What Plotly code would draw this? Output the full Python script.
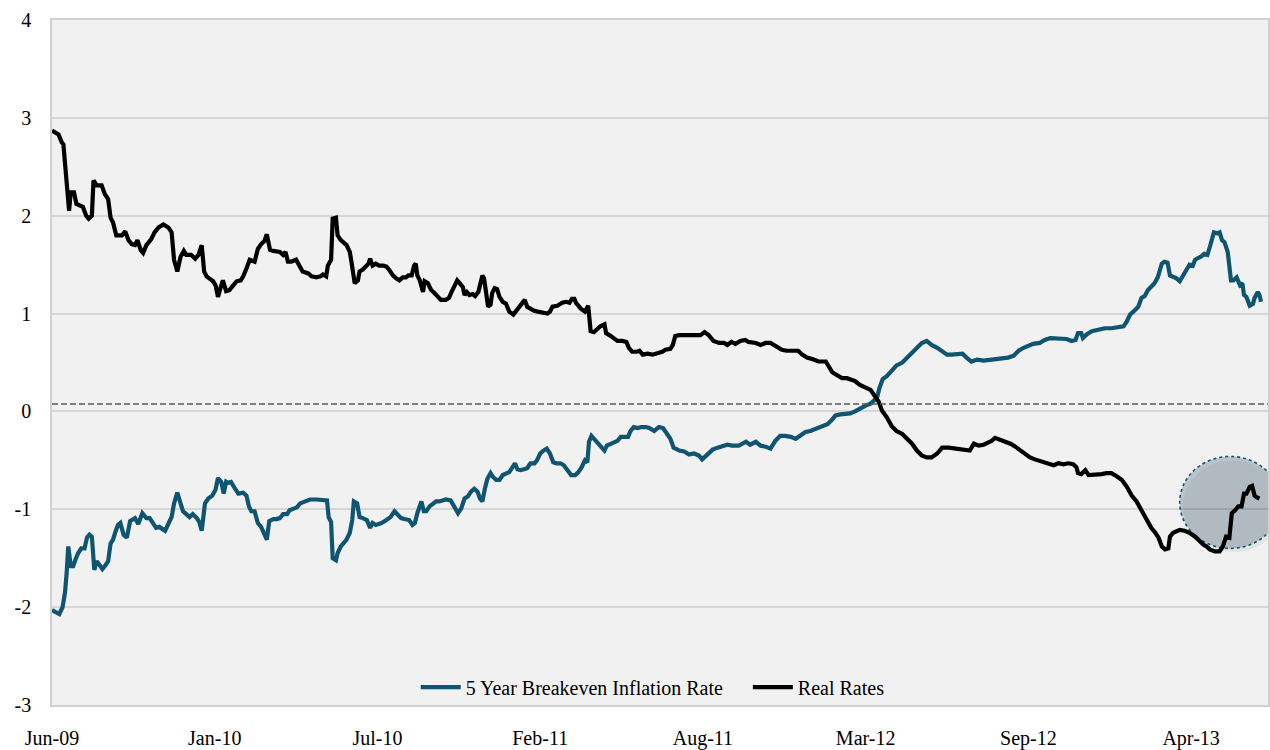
import pandas as pd
import plotly.graph_objects as go

# ---------------- data ----------------
START_DATE = "2009-06-15"          # first observation
# days elapsed since START_DATE for each reading, and the reading (%)
real_days = [0, 8, 12, 14, 18, 21, 23, 27, 30, 34, 38, 42, 45, 49, 51, 55, 61, 65, 69, 72, 75, 79, 86, 90, 94, 98,
             102, 105, 109, 112, 116, 122, 126, 131, 137, 143, 147, 150, 154, 158, 162, 165, 171, 176, 180, 184,
             187, 190, 194, 198, 201, 204, 207, 210, 214, 218, 223, 227, 232, 235, 239, 243, 249, 253, 257, 261,
             264, 268, 272, 280, 284, 287, 290, 294, 300, 304, 308, 315, 319, 325, 330, 333, 337, 339, 343, 345,
             349, 351, 355, 362, 366, 368, 370, 372, 376, 378, 382, 386, 389, 391, 394, 398, 402, 407, 411, 415,
             419, 423, 427, 431, 435, 438, 442, 445, 447, 449, 452, 456, 458, 462, 466, 470, 474, 478, 484, 488,
             491, 495, 498, 502, 505, 507, 510, 513, 517, 520, 524, 526, 529, 531, 533, 536, 539, 541, 544, 547,
             550, 554, 558, 562, 567, 570, 574, 578, 581, 584, 588, 592, 597, 603, 609, 612, 615, 621, 627, 632,
             636, 639, 642, 644, 650, 655, 659, 662, 666, 670, 674, 679, 681, 685, 690, 695, 701, 706, 709, 713,
             719, 722, 726, 732, 738, 744, 750, 754, 760, 763, 766, 771, 777, 783, 791, 797, 802, 807, 813, 820,
             826, 830, 835, 840, 846, 852, 856, 865, 871, 877, 883, 889, 897, 903, 910, 917, 922, 928, 936, 942,
             951, 955, 959, 965, 971, 977, 981, 987, 993, 1000, 1006, 1011, 1016, 1020, 1026, 1032, 1038, 1045,
             1051, 1057, 1063, 1069, 1075, 1081, 1088, 1094, 1102, 1110, 1114, 1122, 1128, 1133, 1139, 1145, 1151,
             1155, 1159, 1165, 1171, 1178, 1184, 1190, 1196, 1202, 1208, 1216, 1225, 1231, 1237, 1243, 1249, 1255,
             1259, 1261, 1265, 1270, 1274, 1278, 1284, 1290, 1296, 1302, 1308, 1315, 1321, 1327, 1333, 1339, 1345,
             1351, 1356, 1360, 1364, 1368, 1372, 1374, 1378, 1382, 1386, 1392, 1398, 1405, 1411, 1415, 1419, 1423,
             1429, 1435, 1439, 1443, 1447, 1450, 1454, 1458, 1462, 1465, 1468, 1472, 1475, 1478, 1481, 1484]
real_vals = [2.87, 2.83, 2.75, 2.73, 2.34, 2.05, 2.24, 2.24, 2.12, 2.10, 2.09, 2.00, 1.97, 2.00, 2.36, 2.31, 2.31,
             2.22, 2.17, 1.98, 1.93, 1.80, 1.80, 1.84, 1.75, 1.71, 1.70, 1.75, 1.65, 1.62, 1.70, 1.76, 1.83, 1.88,
             1.91, 1.88, 1.83, 1.55, 1.43, 1.58, 1.64, 1.60, 1.60, 1.56, 1.60, 1.70, 1.43, 1.38, 1.36, 1.33, 1.29,
             1.17, 1.26, 1.34, 1.23, 1.24, 1.29, 1.33, 1.34, 1.38, 1.46, 1.55, 1.53, 1.66, 1.71, 1.74, 1.81, 1.65,
             1.64, 1.63, 1.60, 1.63, 1.53, 1.53, 1.55, 1.48, 1.43, 1.41, 1.38, 1.37, 1.38, 1.40, 1.38, 1.49, 1.55,
             1.97, 1.98, 1.80, 1.75, 1.70, 1.63, 1.53, 1.44, 1.31, 1.34, 1.43, 1.45, 1.49, 1.51, 1.56, 1.49, 1.51,
             1.49, 1.49, 1.48, 1.44, 1.39, 1.36, 1.34, 1.37, 1.37, 1.39, 1.39, 1.49, 1.51, 1.39, 1.34, 1.22, 1.33,
             1.31, 1.24, 1.21, 1.17, 1.14, 1.14, 1.16, 1.22, 1.29, 1.34, 1.30, 1.27, 1.19, 1.22, 1.19, 1.20, 1.18,
             1.22, 1.29, 1.39, 1.36, 1.21, 1.07, 1.09, 1.21, 1.26, 1.25, 1.17, 1.12, 1.10, 1.02, 0.99, 1.02, 1.07,
             1.10, 1.14, 1.07, 1.05, 1.03, 1.02, 1.01, 1.00, 1.02, 1.07, 1.08, 1.11, 1.12, 1.11, 1.15, 1.15, 1.11,
             1.05, 1.02, 1.08, 0.82, 0.81, 0.84, 0.87, 0.89, 0.80, 0.78, 0.75, 0.72, 0.72, 0.71, 0.65, 0.61, 0.61,
             0.62, 0.58, 0.59, 0.58, 0.59, 0.61, 0.63, 0.64, 0.68, 0.77, 0.78, 0.78, 0.79, 0.79, 0.78, 0.81, 0.78,
             0.72, 0.70, 0.70, 0.68, 0.71, 0.69, 0.72, 0.73, 0.71, 0.70, 0.68, 0.70, 0.70, 0.67, 0.63, 0.62, 0.62,
             0.62, 0.58, 0.55, 0.53, 0.51, 0.51, 0.46, 0.40, 0.37, 0.34, 0.34, 0.33, 0.31, 0.27, 0.24, 0.22, 0.16,
             0.10, 0.01, -0.06, -0.15, -0.20, -0.23, -0.28, -0.33, -0.40, -0.45, -0.47, -0.47, -0.43, -0.37, -0.37,
             -0.38, -0.38, -0.40, -0.40, -0.33, -0.35, -0.34, -0.32, -0.30, -0.27, -0.29, -0.30, -0.33, -0.36,
             -0.40, -0.44, -0.47, -0.49, -0.51, -0.53, -0.55, -0.53, -0.54, -0.53, -0.54, -0.57, -0.63, -0.64,
             -0.60, -0.65, -0.65, -0.64, -0.64, -0.63, -0.63, -0.66, -0.70, -0.77, -0.86, -0.92, -1.01, -1.11,
             -1.19, -1.24, -1.29, -1.38, -1.41, -1.40, -1.28, -1.24, -1.23, -1.21, -1.22, -1.24, -1.28, -1.33,
             -1.36, -1.38, -1.41, -1.43, -1.43, -1.38, -1.28, -1.29, -1.04, -1.01, -0.97, -0.97, -0.84, -0.84,
             -0.77, -0.76, -0.86, -0.88, -0.89]

bei_days = [0, 6, 9, 13, 16, 18, 20, 23, 26, 29, 32, 36, 40, 43, 46, 49, 52, 55, 58, 62, 65, 69, 72, 75, 78, 81, 84,
            88, 92, 96, 102, 106, 111, 116, 120, 124, 128, 132, 139, 144, 147, 150, 154, 158, 161, 165, 169, 173,
            178, 181, 184, 188, 192, 197, 201, 204, 208, 211, 214, 216, 220, 225, 229, 235, 239, 242, 245, 249,
            253, 257, 260, 264, 267, 272, 276, 280, 284, 289, 292, 297, 301, 305, 310, 317, 325, 331, 338, 340,
            343, 345, 349, 351, 355, 362, 366, 369, 371, 375, 378, 382, 387, 391, 394, 398, 405, 411, 416, 421,
            425, 429, 433, 439, 443, 446, 449, 452, 454, 457, 460, 464, 468, 472, 476, 480, 484, 490, 494, 497,
            499, 503, 507, 511, 515, 519, 523, 526, 529, 532, 535, 539, 542, 546, 550, 554, 558, 562, 566, 569,
            572, 576, 580, 584, 588, 593, 596, 600, 604, 608, 612, 616, 620, 625, 629, 634, 638, 643, 647, 651,
            655, 658, 660, 663, 666, 670, 675, 679, 682, 687, 691, 695, 699, 704, 708, 711, 715, 720, 724, 730,
            734, 740, 744, 746, 751, 756, 760, 764, 771, 777, 783, 789, 795, 799, 803, 807, 812, 818, 824, 830,
            836, 844, 853, 858, 865, 871, 877, 883, 889, 895, 901, 908, 914, 920, 926, 932, 938, 946, 953, 958,
            963, 969, 975, 981, 987, 993, 1000, 1006, 1011, 1014, 1017, 1021, 1026, 1032, 1038, 1045, 1051, 1057,
            1063, 1069, 1075, 1081, 1088, 1094, 1100, 1106, 1114, 1119, 1124, 1130, 1137, 1145, 1155, 1165, 1175,
            1182, 1188, 1194, 1200, 1206, 1214, 1220, 1227, 1235, 1241, 1247, 1253, 1258, 1261, 1265, 1267, 1272,
            1278, 1286, 1294, 1302, 1310, 1317, 1321, 1325, 1329, 1335, 1339, 1343, 1347, 1351, 1355, 1359, 1362,
            1364, 1367, 1371, 1374, 1378, 1382, 1386, 1390, 1394, 1398, 1402, 1405, 1409, 1412, 1416, 1420, 1423,
            1426, 1428, 1432, 1435, 1438, 1441, 1445, 1449, 1452, 1456, 1460, 1463, 1465, 1468, 1472, 1476, 1478,
            1482, 1484, 1486]
bei_vals = [-2.03, -2.06, -2.07, -2.00, -1.85, -1.65, -1.38, -1.58, -1.58, -1.51, -1.45, -1.40, -1.40, -1.29, -1.26,
            -1.28, -1.62, -1.53, -1.57, -1.61, -1.58, -1.53, -1.35, -1.31, -1.23, -1.16, -1.14, -1.26, -1.29, -1.12,
            -1.09, -1.15, -1.04, -1.09, -1.09, -1.15, -1.19, -1.18, -1.22, -1.13, -1.08, -0.94, -0.83, -0.94, -1.02,
            -1.05, -1.08, -1.05, -1.09, -1.13, -1.22, -0.94, -0.89, -0.86, -0.80, -0.68, -0.72, -0.84, -0.72, -0.73,
            -0.72, -0.79, -0.84, -0.83, -0.86, -0.97, -1.02, -1.02, -1.14, -1.18, -1.24, -1.31, -1.12, -1.10, -1.10,
            -1.09, -1.05, -1.05, -1.01, -0.99, -0.98, -0.94, -0.92, -0.90, -0.90, -0.90, -0.91, -1.08, -1.13, -1.50,
            -1.52, -1.45, -1.38, -1.31, -1.24, -1.11, -0.92, -0.94, -1.08, -1.09, -1.11, -1.19, -1.14, -1.16, -1.14,
            -1.11, -1.08, -1.02, -1.06, -1.09, -1.10, -1.11, -1.16, -1.14, -1.04, -0.96, -0.92, -1.02, -1.02, -0.97,
            -0.94, -0.92, -0.92, -0.91, -0.90, -0.91, -0.97, -1.02, -1.04, -0.99, -0.89, -0.87, -0.82, -0.79, -0.82,
            -0.89, -0.92, -0.79, -0.69, -0.63, -0.67, -0.70, -0.70, -0.65, -0.64, -0.62, -0.57, -0.53, -0.59, -0.60,
            -0.59, -0.58, -0.53, -0.53, -0.50, -0.43, -0.40, -0.38, -0.43, -0.52, -0.53, -0.53, -0.55, -0.60, -0.65,
            -0.65, -0.62, -0.57, -0.50, -0.52, -0.31, -0.25, -0.28, -0.31, -0.37, -0.40, -0.35, -0.33, -0.31, -0.30,
            -0.26, -0.26, -0.26, -0.20, -0.16, -0.17, -0.16, -0.16, -0.17, -0.20, -0.17, -0.16, -0.17, -0.23, -0.28,
            -0.37, -0.40, -0.41, -0.44, -0.43, -0.45, -0.49, -0.46, -0.43, -0.39, -0.37, -0.35, -0.34, -0.35, -0.35,
            -0.31, -0.34, -0.31, -0.35, -0.36, -0.38, -0.30, -0.25, -0.25, -0.26, -0.28, -0.25, -0.21, -0.20, -0.18,
            -0.16, -0.13, -0.09, -0.04, -0.03, -0.03, -0.02, 0.00, 0.03, 0.06, 0.08, 0.11, 0.14, 0.24, 0.33, 0.36,
            0.42, 0.47, 0.50, 0.55, 0.60, 0.66, 0.70, 0.72, 0.68, 0.65, 0.62, 0.58, 0.58, 0.59, 0.59, 0.55, 0.51,
            0.53, 0.52, 0.53, 0.54, 0.55, 0.57, 0.62, 0.65, 0.67, 0.69, 0.70, 0.73, 0.75, 0.75, 0.74, 0.74, 0.72,
            0.73, 0.80, 0.80, 0.75, 0.79, 0.82, 0.84, 0.85, 0.85, 0.86, 0.87, 0.92, 0.99, 1.02, 1.07, 1.16, 1.18,
            1.24, 1.27, 1.31, 1.37, 1.46, 1.51, 1.53, 1.52, 1.39, 1.38, 1.36, 1.33, 1.39, 1.46, 1.50, 1.49, 1.55,
            1.57, 1.58, 1.61, 1.60, 1.68, 1.78, 1.83, 1.82, 1.83, 1.75, 1.73, 1.63, 1.34, 1.34, 1.37, 1.29, 1.31,
            1.19, 1.17, 1.08, 1.10, 1.16, 1.22, 1.19, 1.12]

# category tick labels, one every 200 days from the first observation
tick_labels = ["Jun-09", "Jan-10", "Jul-10", "Feb-11", "Aug-11", "Mar-12", "Sep-12", "Apr-13"]
y_ticks = [-3, -2, -1, 0, 1, 2, 3, 4]
y_tick_labels = ["-3", "-2", "-1", "0", "1", "2", "3", "4"]
TICK_STEP_DAYS = 200
AXIS_END_DAYS = 1494.5
REFERENCE_LEVEL = 0.075            # dashed horizontal reference line
HIGHLIGHT = dict(d0=1386, d1=1510, v0=-1.40, v1=-0.46)   # highlighted region (days, %)

# ---------------- build ----------------
start = pd.Timestamp(START_DATE)
to_date = lambda d: start + pd.to_timedelta(d, unit="D")
real_x = [to_date(d) for d in real_days]
bei_x = [to_date(d) for d in bei_days]
tick_x = [to_date(TICK_STEP_DAYS * i) for i in range(len(tick_labels))]

TEAL = "#0f5572"
FONT = "Liberation Serif, Times New Roman, serif"
FS = 20
NB = "\u00a0"

fig = go.Figure()
fig.add_trace(go.Scatter(x=bei_x, y=bei_vals, mode="lines", name="5 Year Breakeven Inflation Rate" + NB * 4,
                         line=dict(color=TEAL, width=4.2)))
fig.add_trace(go.Scatter(x=real_x, y=real_vals, mode="lines", name="Real Rates",
                         line=dict(color="#000000", width=4.2)))

# reference dashed line
fig.add_shape(type="line", xref="paper", x0=0, x1=1, yref="y", y0=REFERENCE_LEVEL, y1=REFERENCE_LEVEL,
              line=dict(color="#595959", width=1.5, dash="6px,3px"), layer="above")

# highlight ellipse with a soft shadow
fig.add_shape(type="circle", xref="x", yref="y",
              x0=to_date(HIGHLIGHT["d0"] + 4), x1=to_date(HIGHLIGHT["d1"] + 4),
              y0=HIGHLIGHT["v0"] - 0.04, y1=HIGHLIGHT["v1"] - 0.04,
              fillcolor="rgba(0,0,0,0.05)", line=dict(width=0), layer="below")
fig.add_shape(type="circle", xref="x", yref="y",
              x0=to_date(HIGHLIGHT["d0"]), x1=to_date(HIGHLIGHT["d1"]),
              y0=HIGHLIGHT["v0"], y1=HIGHLIGHT["v1"],
              fillcolor="rgba(60,95,112,0.31)", line=dict(color=TEAL, width=1.6, dash="dot"), layer="below")

fig.update_layout(
    width=1270, height=750,
    margin=dict(l=52, r=0, t=20, b=40),
    paper_bgcolor="white", plot_bgcolor="#f1f1f1",
    font=dict(family=FONT, size=FS, color="#000000"),
    showlegend=True,
    legend=dict(orientation="h", x=0.494, xanchor="center", y=0.026, yanchor="middle",
                bgcolor="rgba(0,0,0,0)", font=dict(family=FONT, size=FS, color="#000000"),
                itemwidth=40),
    xaxis=dict(type="date", range=[to_date(0), to_date(AXIS_END_DAYS)],
               tickmode="array", tickvals=tick_x, ticktext=tick_labels,
               showgrid=False, zeroline=False, showline=True, linecolor="#d0d0d0", linewidth=1.5,
               mirror=True, ticks="", ticklabelstandoff=14,
               tickfont=dict(family=FONT, size=FS, color="#000000")),
    yaxis=dict(range=[-3, 4], tickmode="array", tickvals=y_ticks, ticktext=y_tick_labels,
               showgrid=True, gridcolor="rgba(0,0,0,0.11)", gridwidth=1.5,
               zeroline=False, showline=True, linecolor="#d0d0d0", linewidth=1.5, mirror=True,
               ticks="", ticklabelstandoff=15,
               tickfont=dict(family=FONT, size=FS, color="#000000")),
)

fig.write_html("out.html")
